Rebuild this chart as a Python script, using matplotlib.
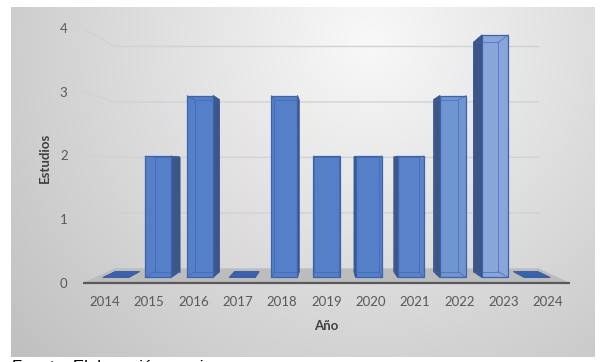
import numpy as np
import matplotlib.pyplot as plt
from matplotlib.patches import Polygon
from matplotlib.colors import to_rgb

years = [2014, 2015, 2016, 2017, 2018, 2019, 2020, 2021, 2022, 2023, 2024]
estudios = [0, 2, 3, 0, 3, 2, 2, 2, 3, 4, 0]
yticks = [0, 1, 2, 3, 4]

plt.rcParams['font.family'] = ['Lato', 'DejaVu Sans']

W, H = 602, 362
fig = plt.figure(figsize=(W / 100, H / 100), dpi=100)
fig.patch.set_facecolor('white')

# background gradient (chart area)
bg = fig.add_axes([0, 0, 1, 1], zorder=0)
bg.set_xlim(0, W)
bg.set_ylim(H, 0)
bg.axis('off')
gx, gy = np.meshgrid(np.linspace(11, 595, 300), np.linspace(7, 357, 200))
d = np.hypot(gx - 370, gy - 40) / 470
lum = np.clip(0.975 - 0.22 * d, 0, 1)
bg.imshow(np.dstack([lum, lum, lum]), extent=(11, 595, 357, 7), aspect='auto',
          interpolation='bilinear')

# main axes = front plane of the 3d box
x_left, x_right, y_zero, y_top = 82.85, 570.2, 283, 28
ax = fig.add_axes([x_left / W, (H - y_zero) / H, (x_right - x_left) / W,
                   (y_zero - y_top) / H], zorder=1)
ax.set_facecolor('none')
n = len(years)
ax.set_xlim(-0.5, n - 0.5)
ax.set_ylim(0, max(yticks))
for s in ax.spines.values():
    s.set_visible(False)

# crude perspective: points pulled toward a vanishing point
VX, VY = (n - 1) / 2, 1.77
R_FRONT, R_BACK, R_WALL = 0.951, 0.899, 0.87
HW = 0.31


def proj(x, v, r):
    return VX + r * (x - VX), VY + r * (v - VY)


# gridlines: diagonal on the side, horizontal on the back wall
for t in yticks[1:]:
    pts = [proj(-0.5, t, 1.0), proj(-0.5, t, R_WALL), proj(n - 0.5, t, R_WALL)]
    ax.plot(*zip(*pts), color='#d2d2d2', lw=1.0, clip_on=False, zorder=1)

# floor
floor = [proj(-0.5, 0, 1.0), proj(n - 0.5, 0, 1.0),
         proj(n - 0.5, 0, R_WALL), proj(-0.5, 0, R_WALL)]
ax.add_patch(Polygon(floor, closed=True, fc='#bcbcbc', ec='none',
                     clip_on=False, zorder=2))
ax.plot([floor[0][0], floor[1][0]], [floor[0][1], floor[1][1]],
        color='#595959', lw=1.6, clip_on=False, zorder=3, solid_capstyle='butt')

base = np.array(to_rgb('#5580c8'))
for i, val in enumerate(estudios):
    x0, x1 = i - HW, i + HW
    if val == 0:
        top = [proj(x0, 0, R_FRONT), proj(x1, 0, R_FRONT),
               proj(x1, 0, R_BACK), proj(x0, 0, R_BACK)]
        ax.add_patch(Polygon(top, closed=True, fc='#3863b2', ec='#2f5597',
                             lw=0.6, clip_on=False, zorder=4))
        continue
    front = [proj(x0, 0, R_FRONT), proj(x1, 0, R_FRONT),
             proj(x1, val, R_FRONT), proj(x0, val, R_FRONT)]
    back = [proj(x0, 0, R_BACK), proj(x1, 0, R_BACK),
            proj(x1, val, R_BACK), proj(x0, val, R_BACK)]
    xs = x1 if i < VX else x0
    side = [proj(xs, 0, R_FRONT), proj(xs, 0, R_BACK),
            proj(xs, val, R_BACK), proj(xs, val, R_FRONT)]
    ax.add_patch(Polygon(side, closed=True, fc='#3d5687', ec='#2f4a7a',
                         lw=0.6, clip_on=False, zorder=4))
    light = np.clip((i - 6.8) / 2.2, 0, 1) * 0.3
    fc = base + (1 - base) * light
    ax.add_patch(Polygon(front, closed=True, fc=fc, ec='#3a64ad', lw=0.9,
                         clip_on=False, zorder=5))
    # back edges seen through the face
    ax.add_patch(Polygon(back, closed=True, fc='none', ec='#3a64ad', lw=0.7,
                         alpha=0.6, clip_on=False, zorder=6))
    for a, b in zip(front, back):
        ax.plot([a[0], b[0]], [a[1], b[1]], color='#3a64ad', lw=0.7,
                alpha=0.6, clip_on=False, zorder=6)

ax.set_xticks(range(n), [str(y) for y in years])
ax.set_yticks(yticks, [str(t) for t in yticks])
ax.tick_params(axis='both', length=0, labelsize=9.5, labelcolor='#595959')
ax.tick_params(axis='x', pad=9)
ax.tick_params(axis='y', pad=11)

ax.set_xlabel('Año', fontsize=9.5, fontweight='bold', color='#404040')
ax.xaxis.set_label_coords(0.5, -0.145)
ax.set_ylabel('Estudios', fontsize=9.5, fontweight='bold', color='#404040')
ax.yaxis.set_label_coords(-0.066, 0.49)

# source line, cut off by the bottom edge as in the original
fig.text(12 / W, 1 - 360 / H, 'Fuente: Elaboración propia', fontsize=12,
         family=['Liberation Sans', 'DejaVu Sans'], color='black',
         va='top', ha='left')

fig.savefig('out.png', dpi=100)
